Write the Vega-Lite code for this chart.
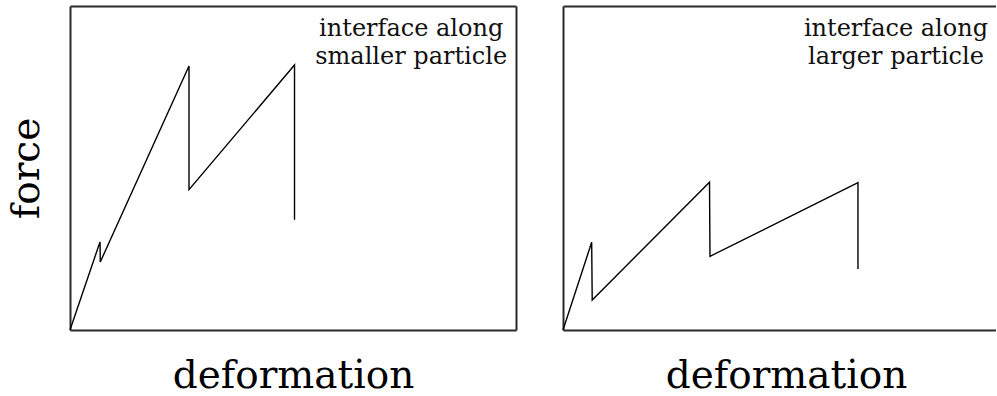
{
  "$schema": "https://vega.github.io/schema/vega-lite/v6.json",
  "padding": {"left": 7, "top": 6, "right": 0, "bottom": 0},
  "background": "white",
  "config": {
    "font": "DejaVu Serif",
    "view": {"stroke": null},
    "axis": {
      "grid": false, "ticks": false, "labels": false, "domain": true,
      "domainColor": "#2a2a2a", "domainWidth": 2,
      "titleFont": "DejaVu Serif", "titleFontWeight": "normal", "titleColor": "#000"
    }
  },
  "datasets": {
    "smaller": [
      {"i": 0, "deformation": 0, "force": 0},
      {"i": 1, "deformation": 6.73, "force": 27.2},
      {"i": 2, "deformation": 6.79, "force": 21.0},
      {"i": 3, "deformation": 26.68, "force": 81.5},
      {"i": 4, "deformation": 26.68, "force": 43.3},
      {"i": 5, "deformation": 50.34, "force": 81.8},
      {"i": 6, "deformation": 50.34, "force": 34.0}
    ],
    "larger": [
      {"i": 0, "deformation": 0, "force": 0},
      {"i": 1, "deformation": 6.43, "force": 27.07},
      {"i": 2, "deformation": 6.55, "force": 9.26},
      {"i": 3, "deformation": 32.85, "force": 45.6},
      {"i": 4, "deformation": 32.96, "force": 22.75},
      {"i": 5, "deformation": 66.14, "force": 45.46},
      {"i": 6, "deformation": 66.14, "force": 18.83}
    ]
  },
  "spacing": 44,
  "hconcat": [
    {
      "width": 446, "height": 324,
      "layer": [
        {
          "data": {"name": "smaller"},
          "mark": {"type": "line", "color": "#000", "strokeWidth": 1.4},
          "encoding": {
            "x": {"field": "deformation", "type": "quantitative", "scale": {"domain": [0, 100], "nice": false, "zero": false},
                  "axis": {"orient": "bottom", "title": "deformation", "titleFontSize": 39, "titlePadding": 26}},
            "y": {"field": "force", "type": "quantitative", "scale": {"domain": [0, 100], "nice": false, "zero": false},
                  "axis": {"orient": "left", "title": "force", "titleFontSize": 39, "titlePadding": 24}},
            "order": {"field": "i", "type": "quantitative"}
          }
        },
        {
          "data": {"values": [{"deformation": 76.5, "force": 90.6, "label": "interface along\nsmaller particle"}]},
          "mark": {"type": "text", "align": "center", "baseline": "alphabetic", "fontSize": 24, "lineHeight": 28, "lineBreak": "\n", "color": "#111"},
          "encoding": {
            "x": {"field": "deformation", "type": "quantitative", "axis": {"orient": "top", "title": null}},
            "y": {"field": "force", "type": "quantitative", "axis": {"orient": "right", "title": null}},
            "text": {"field": "label", "type": "nominal"}
          }
        }
      ],
      "resolve": {"axis": {"x": "independent", "y": "independent"}}
    },
    {
      "width": 433, "height": 324,
      "layer": [
        {
          "data": {"name": "larger"},
          "mark": {"type": "line", "color": "#000", "strokeWidth": 1.4},
          "encoding": {
            "x": {"field": "deformation", "type": "quantitative", "scale": {"domain": [0, 97.09], "nice": false, "zero": false},
                  "axis": {"orient": "bottom", "title": "deformation", "titleFontSize": 39, "titlePadding": 26, "titleX": 223}},
            "y": {"field": "force", "type": "quantitative", "scale": {"domain": [0, 100], "nice": false, "zero": false},
                  "axis": {"orient": "left", "title": null}},
            "order": {"field": "i", "type": "quantitative"}
          }
        },
        {
          "data": {"values": [{"deformation": 74.66, "force": 90.6, "label": "interface along\nlarger particle"}]},
          "mark": {"type": "text", "align": "center", "baseline": "alphabetic", "fontSize": 24, "lineHeight": 28, "lineBreak": "\n", "color": "#111"},
          "encoding": {
            "x": {"field": "deformation", "type": "quantitative", "axis": {"orient": "top", "title": null}},
            "y": {"field": "force", "type": "quantitative", "axis": null},
            "text": {"field": "label", "type": "nominal"}
          }
        }
      ],
      "resolve": {"axis": {"x": "independent", "y": "independent"}}
    }
  ]
}
